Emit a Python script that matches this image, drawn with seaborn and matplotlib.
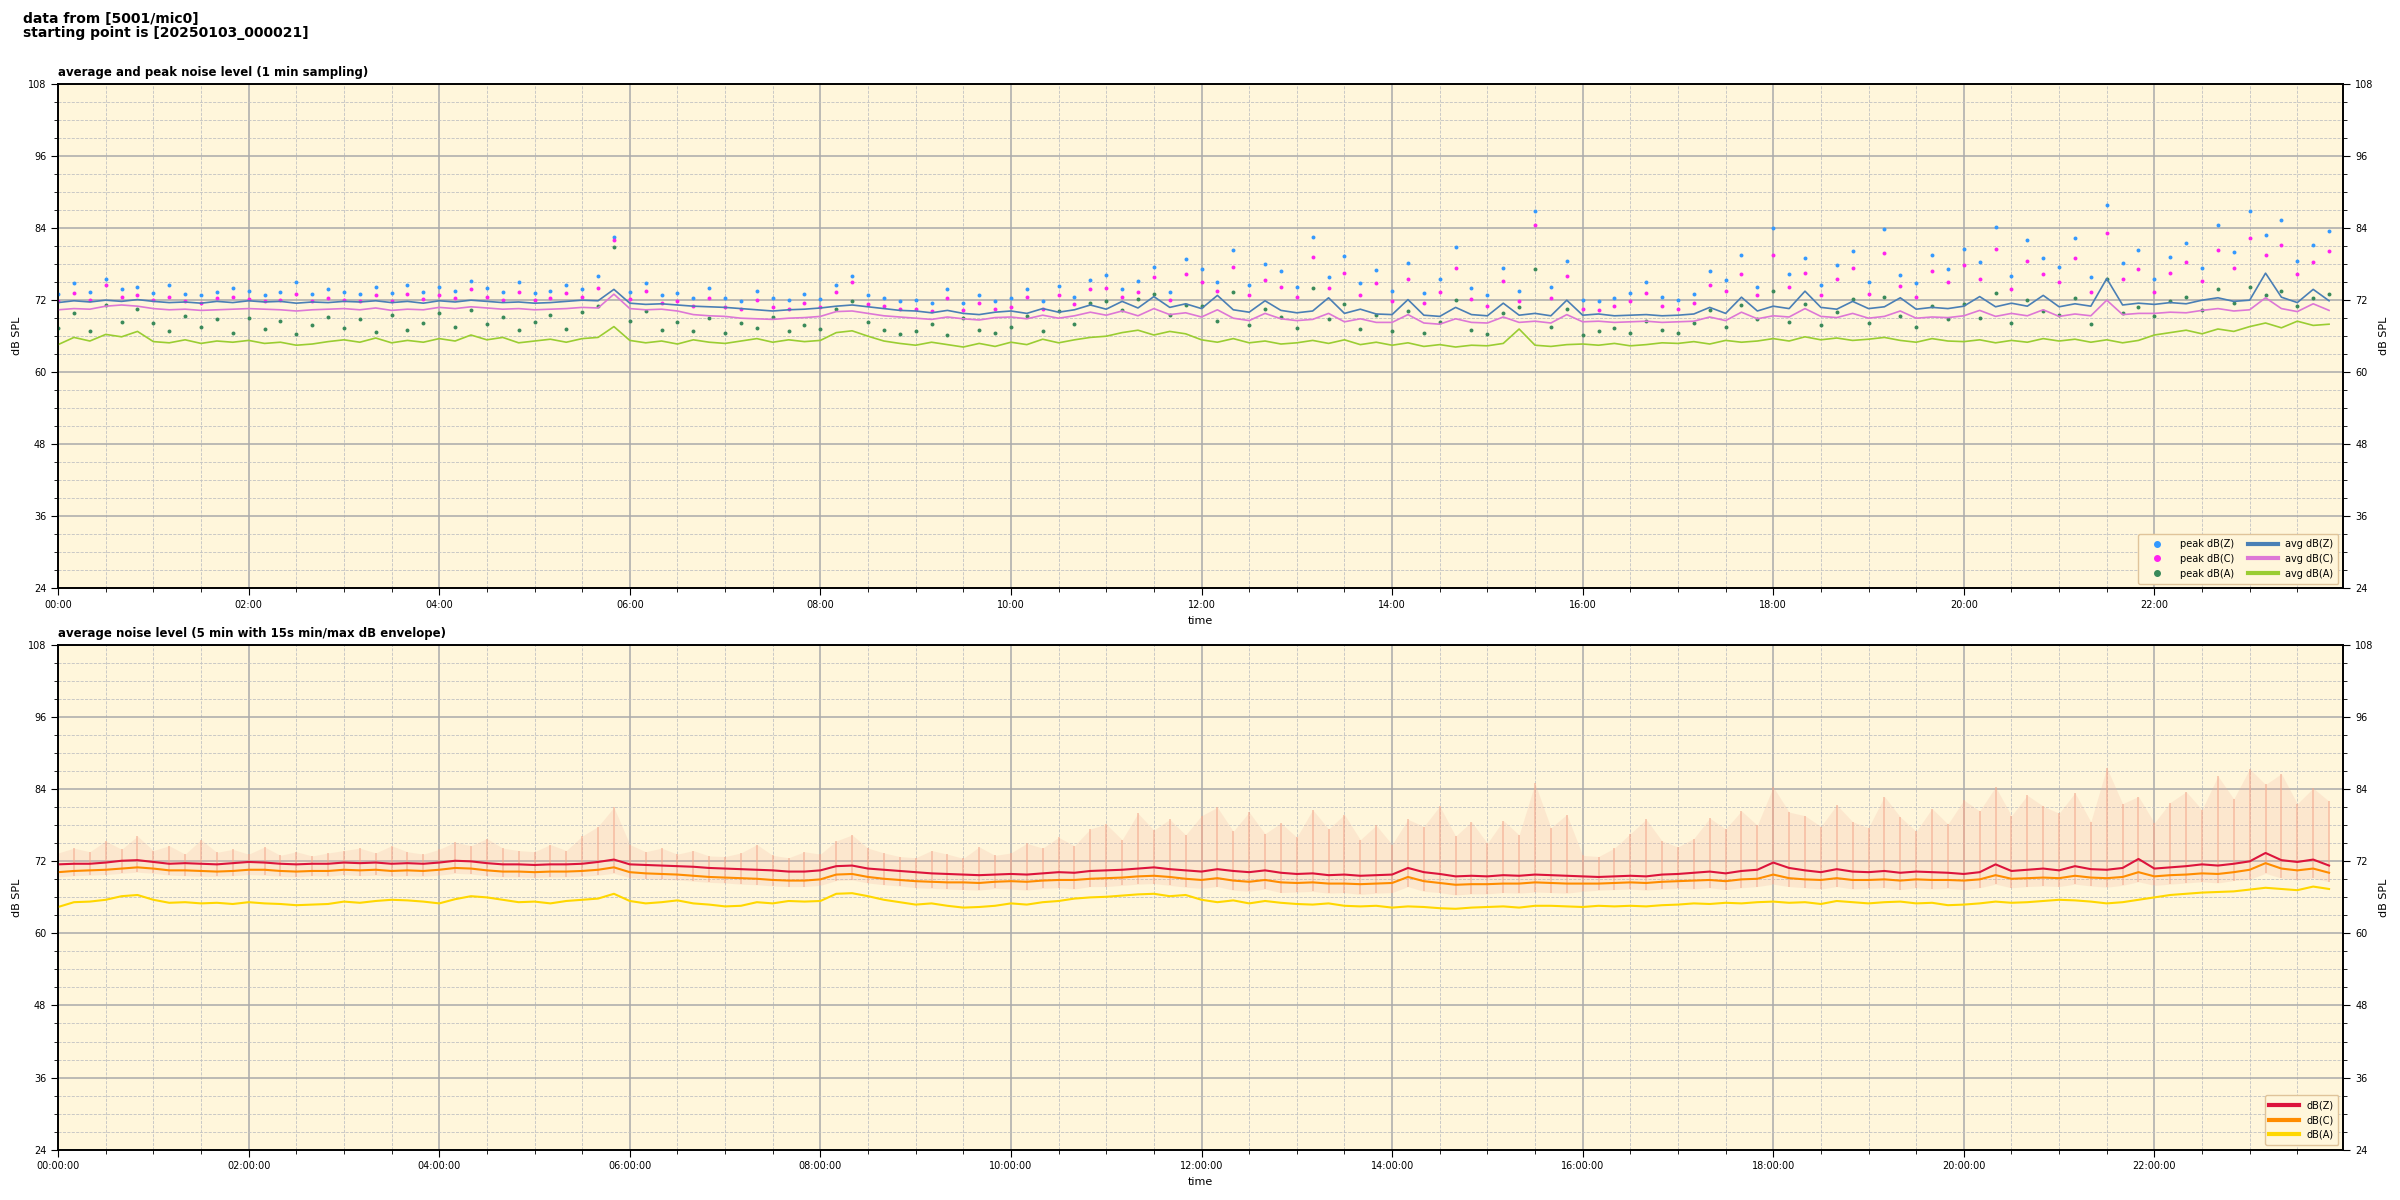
import numpy as np
import pandas as pd
import matplotlib
matplotlib.use("Agg")
import matplotlib.pyplot as plt
import matplotlib.dates as mdates
from matplotlib.lines import Line2D
from matplotlib.ticker import MultipleLocator
import seaborn as sns

# ---- data, one value per 10 minutes, one row per hour ----
times = pd.date_range("2025-01-03 00:00", periods=144, freq="10min")

# top panel: 1 min averages
avg_z = [71.6, 71.9, 71.7, 72.0, 71.8, 72.1,
         71.8, 71.6, 71.7, 71.5, 71.8, 71.6,
         71.9, 71.7, 71.8, 71.5, 71.7, 71.6,
         71.8, 71.7, 71.9, 71.6, 71.8, 71.5,
         71.9, 71.7, 72.0, 71.8, 71.6, 71.7,
         71.5, 71.6, 71.8, 72.0, 71.9, 73.8,
         71.5, 71.3, 71.4, 71.2, 71.0, 70.9,
         70.8, 70.6, 70.4, 70.2, 70.4, 70.5,
         70.7, 71.0, 71.2, 70.9, 70.6, 70.3,
         70.2, 69.9, 70.3, 69.8, 69.6, 70.0,
         70.2, 69.8, 70.6, 70.0, 70.4, 71.2,
         70.5, 71.8, 70.7, 72.6, 70.8, 71.4,
         70.6, 72.8, 70.4, 70.0, 71.9, 70.3,
         69.9, 70.2, 72.4, 69.8, 70.5, 69.7,
         69.6, 72.1, 69.5, 69.3, 70.8, 69.6,
         69.4, 71.5, 69.5, 69.8, 69.4, 72.0,
         69.5, 69.7, 69.4, 69.5, 69.6, 69.4,
         69.5, 69.7, 70.8, 69.8, 72.5, 70.2,
         71.0, 70.6, 73.5, 70.8, 70.5, 71.8,
         70.6, 70.9, 72.4, 70.5, 70.8, 70.6,
         71.0, 72.6, 70.9, 71.5, 71.0, 72.8,
         70.9, 71.4, 71.0, 75.6, 71.2, 71.5,
         71.3, 71.6, 71.4, 72.0, 72.4, 71.8,
         72.0, 76.5, 72.5, 71.6, 73.8, 71.9]

avg_c = [70.4, 70.6, 70.5, 71.0, 71.2, 71.0,
         70.6, 70.4, 70.5, 70.3, 70.4, 70.5,
         70.6, 70.5, 70.4, 70.2, 70.4, 70.5,
         70.6, 70.4, 70.7, 70.3, 70.5, 70.4,
         70.8, 70.6, 70.9, 70.7, 70.5, 70.6,
         70.4, 70.5, 70.6, 70.8, 70.7, 73.0,
         70.6, 70.4, 70.5, 70.2, 69.6, 69.4,
         69.3, 69.0, 68.9, 68.8, 69.0, 69.1,
         69.3, 70.1, 70.2, 69.8, 69.4, 69.2,
         69.0, 68.8, 69.2, 68.9, 68.7, 69.1,
         69.2, 68.9, 69.5, 69.0, 69.4, 70.0,
         69.5, 70.2, 69.4, 70.6, 69.6, 69.9,
         69.2, 70.4, 69.0, 68.6, 69.8, 68.9,
         68.6, 68.8, 69.8, 68.4, 68.9, 68.3,
         68.3, 69.6, 68.2, 68.0, 68.9, 68.3,
         68.2, 69.2, 68.3, 68.5, 68.2, 69.6,
         68.4, 68.5, 68.3, 68.4, 68.5, 68.3,
         68.4, 68.5, 69.2, 68.6, 70.0, 68.9,
         69.4, 69.2, 70.6, 69.3, 69.1, 69.8,
         69.0, 69.3, 70.2, 69.0, 69.2, 69.1,
         69.4, 70.3, 69.3, 69.8, 69.4, 70.4,
         69.3, 69.7, 69.4, 72.0, 69.6, 69.8,
         69.8, 70.0, 69.9, 70.3, 70.6, 70.2,
         70.4, 72.4, 70.6, 70.1, 71.4, 70.3]

avg_a = [64.6, 65.8, 65.2, 66.3, 65.9, 66.8,
         65.1, 64.9, 65.4, 64.8, 65.2, 65.0,
         65.3, 64.8, 65.0, 64.5, 64.7, 65.1,
         65.4, 65.0, 65.7, 64.9, 65.3, 65.0,
         65.6, 65.2, 66.2, 65.4, 65.8, 64.9,
         65.2, 65.5, 65.0, 65.6, 65.8, 67.6,
         65.3, 64.9, 65.2, 64.7, 65.4, 65.0,
         64.8, 65.2, 65.6, 65.0, 65.4, 65.1,
         65.3, 66.6, 66.9, 66.0, 65.2, 64.8,
         64.5, 65.0, 64.6, 64.2, 64.8, 64.3,
         65.0, 64.6, 65.5, 64.9, 65.4, 65.8,
         66.0, 66.6, 67.0, 66.2, 66.8, 66.4,
         65.4, 65.0, 65.6, 64.9, 65.2, 64.7,
         64.9, 65.3, 64.8, 65.4, 64.6, 65.0,
         64.5, 64.9, 64.3, 64.6, 64.2, 64.5,
         64.4, 64.8, 67.2, 64.5, 64.3, 64.6,
         64.7, 64.5, 64.8, 64.4, 64.6, 64.9,
         64.8, 65.1, 64.7, 65.3, 65.0, 65.2,
         65.6, 65.2, 65.9, 65.4, 65.7, 65.3,
         65.5, 65.8, 65.3, 65.0, 65.6, 65.2,
         65.1, 65.4, 64.9, 65.3, 65.0, 65.6,
         65.2, 65.5, 65.0, 65.4, 64.9, 65.3,
         66.2, 66.6, 67.0, 66.4, 67.2, 66.8,
         67.6, 68.2, 67.4, 68.5, 67.8, 68.0]

peak_z = [73.0, 74.8, 73.4, 75.6, 73.8, 74.2,
          73.2, 74.5, 73.0, 72.9, 73.4, 74.0,
          73.6, 72.9, 73.4, 75.0, 73.1, 73.8,
          73.4, 73.0, 74.2, 73.2, 74.6, 73.3,
          74.2, 73.6, 75.2, 74.0, 73.4, 75.1,
          73.2, 73.6, 74.5, 73.8, 76.0, 82.5,
          73.4, 74.8, 72.8, 73.2, 72.4, 74.0,
          72.4, 71.9, 73.6, 72.3, 72.0, 73.0,
          72.2, 74.6, 76.0, 72.8, 72.4, 71.9,
          72.0, 71.6, 73.8, 71.5, 72.9, 71.8,
          72.3, 73.9, 71.8, 74.4, 72.6, 75.4,
          76.2, 73.8, 75.2, 77.6, 73.4, 78.8,
          77.2, 75.0, 80.4, 74.6, 78.0, 76.8,
          74.2, 82.6, 75.8, 79.4, 74.8, 77.0,
          73.6, 78.2, 73.2, 75.6, 80.8, 74.0,
          72.8, 77.4, 73.6, 86.8, 74.2, 78.6,
          72.0, 71.8, 72.4, 73.2, 75.0, 72.6,
          72.1, 73.0, 76.8, 75.4, 79.5, 74.2,
          84.0, 76.4, 79.0, 74.6, 77.8, 80.2,
          75.0, 83.8, 76.2, 74.8, 79.6, 77.2,
          80.6, 78.4, 84.2, 76.0, 82.0, 79.0,
          77.6, 82.4, 75.8, 87.8, 78.2, 80.4,
          75.6, 79.2, 81.6, 77.4, 84.6, 80.0,
          86.8, 82.8, 85.4, 78.6, 81.2, 83.6]

peak_c = [71.8, 73.2, 72.0, 74.6, 72.6, 72.8,
          72.0, 72.6, 71.8, 71.6, 72.3, 72.5,
          72.2, 71.9, 72.1, 73.0, 71.8, 72.4,
          72.0, 71.8, 72.8, 71.9, 73.0, 72.2,
          72.8, 72.4, 73.8, 72.6, 72.0, 73.4,
          72.0, 72.3, 73.2, 72.6, 74.0, 82.0,
          72.2, 73.6, 71.6, 71.8, 71.0, 72.4,
          70.8, 70.6, 72.0, 70.9, 70.5, 71.6,
          70.8, 73.4, 75.0, 71.4, 71.0, 70.6,
          70.6, 70.2, 72.4, 70.4, 71.6, 70.5,
          70.9, 72.6, 70.6, 72.8, 71.4, 73.8,
          74.0, 72.6, 73.4, 75.8, 72.0, 76.4,
          75.0, 73.6, 77.6, 72.8, 75.4, 74.2,
          72.6, 79.2, 74.0, 76.6, 72.8, 74.8,
          71.8, 75.6, 71.6, 73.4, 77.4, 72.2,
          71.0, 75.2, 71.8, 84.6, 72.4, 76.0,
          70.6, 70.4, 71.0, 71.8, 73.2, 71.0,
          70.6, 71.6, 74.6, 73.6, 76.4, 72.8,
          79.6, 74.2, 76.6, 72.8, 75.6, 77.4,
          73.0, 79.8, 74.4, 72.6, 76.8, 75.0,
          77.8, 75.6, 80.6, 73.8, 78.6, 76.4,
          75.0, 79.0, 73.4, 83.2, 75.6, 77.2,
          73.4, 76.6, 78.4, 75.2, 80.4, 77.4,
          82.4, 79.6, 81.2, 76.4, 78.4, 80.2]

peak_a = [67.4, 69.8, 66.8, 71.2, 68.4, 70.6,
          68.2, 66.9, 69.4, 67.6, 68.8, 66.5,
          69.0, 67.2, 68.6, 66.4, 67.8, 69.2,
          67.4, 68.8, 66.7, 69.6, 67.1, 68.2,
          69.8, 67.6, 70.4, 68.0, 69.2, 67.0,
          68.4, 69.6, 67.2, 70.0, 71.0, 80.8,
          68.6, 70.2, 67.0, 68.4, 66.8, 69.0,
          66.6, 68.2, 67.4, 69.2, 66.9, 67.8,
          67.2, 70.6, 71.8, 68.4, 67.0, 66.4,
          66.8, 68.0, 66.2, 69.0, 67.0, 66.5,
          67.6, 69.4, 66.9, 70.2, 68.0, 71.6,
          71.8, 70.4, 72.2, 73.0, 69.6, 71.2,
          71.0, 68.6, 73.4, 67.8, 70.6, 69.2,
          67.4, 74.0, 68.8, 71.4, 67.2, 69.6,
          66.8, 70.2, 66.6, 68.4, 72.0, 67.0,
          66.4, 69.8, 70.8, 77.2, 67.6, 70.6,
          66.2, 66.8, 67.4, 66.5, 68.6, 67.0,
          66.6, 68.2, 70.4, 67.6, 71.2, 68.8,
          73.6, 68.4, 71.4, 67.8, 70.0, 72.2,
          68.2, 72.6, 69.4, 67.6, 71.0, 68.8,
          71.4, 69.0, 73.2, 68.2, 72.0, 70.2,
          69.6, 72.4, 68.0, 75.6, 69.8, 70.8,
          69.4, 71.8, 72.6, 70.4, 73.8, 71.6,
          74.2, 72.8, 73.6, 71.0, 72.4, 73.0]

# bottom panel: 5 min averages and 15 s min/max envelope
z_5min = [71.5, 71.6, 71.6, 71.8, 72.1, 72.2,
          71.9, 71.6, 71.7, 71.6, 71.5, 71.7,
          71.9, 71.8, 71.6, 71.5, 71.6, 71.6,
          71.8, 71.7, 71.8, 71.6, 71.7, 71.6,
          71.8, 72.1, 72.0, 71.7, 71.5, 71.5,
          71.4, 71.5, 71.5, 71.6, 71.9, 72.3,
          71.5, 71.4, 71.3, 71.2, 71.1, 70.9,
          70.8, 70.7, 70.6, 70.5, 70.3, 70.3,
          70.5, 71.2, 71.3, 70.8, 70.6, 70.4,
          70.2, 70.0, 69.9, 69.8, 69.7, 69.8,
          69.9, 69.8, 70.0, 70.2, 70.1, 70.4,
          70.5, 70.6, 70.8, 71.0, 70.7, 70.5,
          70.3, 70.7, 70.4, 70.2, 70.5, 70.1,
          69.9, 70.0, 69.7, 69.8, 69.6, 69.7,
          69.8, 70.9, 70.2, 69.9, 69.5, 69.6,
          69.5, 69.7, 69.6, 69.8, 69.7, 69.6,
          69.5, 69.4, 69.5, 69.6, 69.5, 69.8,
          69.9, 70.1, 70.3, 70.0, 70.4, 70.6,
          71.8, 70.9, 70.5, 70.2, 70.7, 70.3,
          70.2, 70.4, 70.1, 70.3, 70.2, 70.1,
          69.9, 70.2, 71.5, 70.4, 70.6, 70.8,
          70.5, 71.2, 70.7, 70.6, 70.9, 72.4,
          70.8, 71.0, 71.2, 71.5, 71.3, 71.6,
          72.0, 73.4, 72.2, 71.9, 72.3, 71.3]

c_5min = [70.2, 70.4, 70.5, 70.6, 70.8, 71.0,
          70.8, 70.5, 70.5, 70.4, 70.3, 70.4,
          70.6, 70.6, 70.4, 70.3, 70.4, 70.4,
          70.6, 70.5, 70.6, 70.4, 70.5, 70.4,
          70.6, 70.9, 70.8, 70.5, 70.3, 70.3,
          70.2, 70.3, 70.3, 70.4, 70.6, 71.0,
          70.2, 70.0, 69.9, 69.8, 69.6, 69.4,
          69.3, 69.2, 69.1, 68.9, 68.8, 68.8,
          69.0, 69.8, 69.9, 69.4, 69.1, 68.9,
          68.7, 68.6, 68.5, 68.5, 68.4, 68.6,
          68.7, 68.6, 68.8, 68.9, 68.9, 69.1,
          69.2, 69.3, 69.5, 69.6, 69.4, 69.1,
          68.9, 69.2, 68.8, 68.6, 68.9, 68.5,
          68.4, 68.5, 68.3, 68.3, 68.2, 68.3,
          68.4, 69.4, 68.7, 68.4, 68.1, 68.2,
          68.2, 68.3, 68.3, 68.5, 68.4, 68.3,
          68.3, 68.3, 68.4, 68.5, 68.4, 68.6,
          68.7, 68.8, 68.9, 68.7, 69.0, 69.1,
          69.8, 69.2, 69.0, 68.9, 69.2, 68.9,
          68.9, 69.0, 68.8, 69.0, 68.9, 68.9,
          68.8, 69.0, 69.7, 69.1, 69.2, 69.3,
          69.2, 69.6, 69.3, 69.2, 69.4, 70.2,
          69.5, 69.7, 69.8, 70.0, 69.9, 70.2,
          70.6, 71.7, 70.8, 70.5, 70.8, 70.1]

a_5min = [64.4, 65.2, 65.3, 65.6, 66.2, 66.4,
          65.6, 65.1, 65.2, 65.0, 65.1, 64.9,
          65.2, 65.0, 64.9, 64.7, 64.8, 64.9,
          65.3, 65.1, 65.4, 65.6, 65.5, 65.3,
          65.0, 65.7, 66.2, 66.0, 65.6, 65.2,
          65.3, 65.0, 65.4, 65.6, 65.8, 66.6,
          65.4, 65.0, 65.2, 65.5, 65.0, 64.8,
          64.5, 64.6, 65.2, 65.0, 65.4, 65.3,
          65.4, 66.6, 66.7, 66.2, 65.6, 65.2,
          64.8, 65.0, 64.6, 64.3, 64.4, 64.6,
          65.0, 64.8, 65.2, 65.4, 65.8, 66.0,
          66.1, 66.3, 66.5, 66.6, 66.2, 66.4,
          65.6, 65.2, 65.5, 65.0, 65.4, 65.1,
          64.9, 64.8, 65.0, 64.6, 64.5, 64.6,
          64.3, 64.5, 64.4, 64.2, 64.1, 64.3,
          64.4, 64.5, 64.3, 64.6, 64.6, 64.5,
          64.4, 64.6, 64.5, 64.6, 64.5, 64.7,
          64.8, 65.0, 64.9, 65.1, 65.0, 65.2,
          65.3, 65.1, 65.2, 64.9, 65.4, 65.2,
          65.0, 65.2, 65.3, 65.0, 65.1, 64.7,
          64.8, 65.0, 65.3, 65.1, 65.2, 65.4,
          65.6, 65.5, 65.3, 65.0, 65.2, 65.6,
          66.0, 66.4, 66.6, 66.8, 66.9, 67.0,
          67.3, 67.6, 67.4, 67.2, 67.8, 67.4]

env_max = [73.4, 74.2, 73.6, 75.4, 74.0, 76.2,
           73.8, 74.6, 73.2, 75.6, 73.5, 74.0,
           73.2, 74.4, 73.0, 73.6, 72.9, 73.4,
           73.8, 74.2, 73.4, 74.6, 73.6, 73.2,
           74.0, 75.2, 74.6, 75.8, 74.2, 73.8,
           73.6, 74.8, 73.8, 76.2, 77.8, 81.0,
           74.8, 73.6, 74.2, 73.2, 73.8, 72.9,
           72.8, 73.4, 74.8, 73.0, 72.6, 73.6,
           73.2, 75.4, 76.4, 74.2, 73.4, 72.8,
           72.6, 73.8, 73.2, 72.5, 74.4, 73.0,
           73.4, 75.0, 74.2, 76.0, 74.6, 77.4,
           78.2, 75.6, 80.0, 77.2, 79.0, 76.4,
           79.6, 81.0, 77.0, 80.2, 76.6, 78.4,
           76.0, 80.6, 77.4, 79.8, 75.6, 78.0,
           74.8, 79.0, 77.8, 81.2, 76.2, 78.6,
           75.0, 78.8, 76.4, 85.0, 77.6, 79.8,
           73.0, 72.8, 74.2, 76.6, 79.0, 75.4,
           74.4, 75.8, 79.2, 77.4, 80.4, 78.0,
           84.4, 80.2, 79.6, 77.8, 81.4, 78.6,
           77.6, 82.8, 79.4, 77.0, 80.8, 78.2,
           82.2, 80.4, 84.4, 79.6, 83.0, 81.2,
           80.0, 83.4, 78.6, 87.6, 81.6, 82.8,
           78.4, 81.8, 83.6, 80.6, 86.2, 82.4,
           87.4, 84.8, 86.6, 81.6, 84.2, 82.0]

env_min = [69.4, 69.6, 69.7, 69.8, 70.0, 70.2,
           70.0, 69.7, 69.6, 69.5, 69.5, 69.6,
           69.8, 69.7, 69.5, 69.4, 69.6, 69.5,
           69.8, 69.6, 69.7, 69.5, 69.6, 69.5,
           69.7, 70.0, 69.9, 69.6, 69.4, 69.4,
           69.3, 69.4, 69.4, 69.5, 69.7, 70.0,
           69.3, 69.1, 69.0, 68.9, 68.7, 68.5,
           68.4, 68.2, 68.1, 67.9, 67.8, 67.8,
           68.0, 68.8, 68.9, 68.4, 68.1, 67.9,
           67.6, 67.5, 67.4, 67.3, 67.2, 67.5,
           67.4, 67.2, 67.5, 67.6, 67.4, 67.8,
           67.8, 68.0, 68.2, 68.3, 68.0, 67.7,
           67.5, 67.8, 67.2, 67.0, 67.4, 66.8,
           66.9, 67.0, 66.7, 66.8, 66.5, 66.7,
           66.8, 67.8, 67.0, 66.8, 66.4, 66.6,
           66.6, 66.8, 66.7, 66.9, 66.8, 66.7,
           67.0, 67.2, 67.3, 67.4, 67.2, 67.4,
           67.5, 67.4, 67.6, 67.3, 67.6, 67.8,
           68.2, 67.8, 67.6, 67.4, 67.8, 67.4,
           67.5, 67.6, 67.3, 67.6, 67.4, 67.5,
           67.3, 67.6, 68.2, 67.6, 67.8, 67.9,
           67.8, 68.2, 67.9, 67.7, 68.0, 68.6,
           68.0, 68.2, 68.4, 68.6, 68.4, 68.8,
           69.0, 70.0, 69.2, 68.9, 69.2, 68.6]

BG = "#fff6db"
TICK_FONT = ["Liberation Sans Narrow", "DejaVu Sans"]
day_start = pd.Timestamp("2025-01-03 00:00")
day_end = pd.Timestamp("2025-01-03 23:59")

plt.rcParams["font.family"] = ["DejaVu Sans"]

fig, (ax1, ax2) = plt.subplots(2, 1, figsize=(24, 12), dpi=100)
fig.subplots_adjust(left=0.0242, right=0.9764, top=0.930, bottom=0.042, hspace=0.1125)
fig.text(0.0095, 0.990, "data from [5001/mic0]\nstarting point is [20250103_000021]",
         ha="left", va="top", fontsize=10, fontweight="bold", linespacing=1.0)


def style_axes(ax, timefmt):
    ax.set_facecolor(BG)
    ax.set_ylim(24, 108)
    ax.set_xlim(day_start, day_end)
    ax.yaxis.set_major_locator(MultipleLocator(12))
    ax.yaxis.set_minor_locator(MultipleLocator(3))
    ax.xaxis.set_major_locator(mdates.HourLocator(byhour=range(0, 24, 2)))
    ax.xaxis.set_minor_locator(mdates.MinuteLocator(byminute=[0, 30]))
    ax.xaxis.set_major_formatter(mdates.DateFormatter(timefmt))
    ax.grid(which="major", color="#aaaaaa", linestyle="-", linewidth=1.1)
    ax.grid(which="minor", color="#c2c2c2", linestyle="--", linewidth=0.6)
    ax.set_axisbelow(True)
    for sp in ax.spines.values():
        sp.set_linewidth(1.2)
    ax.tick_params(which="major", labelsize=7, length=5)
    ax.tick_params(which="minor", length=3)
    for lab in ax.get_xticklabels() + ax.get_yticklabels():
        lab.set_family(TICK_FONT)
    ax.set_xlabel("time", fontsize=8)
    ax.set_ylabel("dB SPL", fontsize=8)

    axr = ax.twinx()
    axr.set_ylim(24, 108)
    axr.yaxis.set_major_locator(MultipleLocator(12))
    axr.yaxis.set_minor_locator(MultipleLocator(3))
    axr.tick_params(which="major", labelsize=7, length=5)
    axr.tick_params(which="minor", length=3)
    for lab in axr.get_yticklabels():
        lab.set_family(TICK_FONT)
    axr.set_ylabel("dB SPL", fontsize=8)
    for sp in axr.spines.values():
        sp.set_linewidth(1.2)
    return axr


# ---- top: average and peak noise level ----
peak_style = dict(s=8, linewidth=0, ax=ax1, legend=False, zorder=3)
sns.scatterplot(x=times, y=peak_z, color="#3399ff", **peak_style)
sns.scatterplot(x=times, y=peak_c, color="#ff22ee", **peak_style)
sns.scatterplot(x=times, y=peak_a, color="#3a8a5a", **peak_style)
sns.lineplot(x=times, y=avg_z, color="#4a7fb5", linewidth=1.2, ax=ax1, zorder=4)
sns.lineplot(x=times, y=avg_c, color="#dd77d6", linewidth=1.2, ax=ax1, zorder=4)
sns.lineplot(x=times, y=avg_a, color="#9acd32", linewidth=1.2, ax=ax1, zorder=4)
ax1.set_title("average and peak noise level (1 min sampling)", loc="left",
              fontsize=8.5, fontweight="bold")
style_axes(ax1, "%H:%M")

top_handles = [
    Line2D([], [], marker="o", ls="", color="#3399ff", markersize=4, label="peak dB(Z)"),
    Line2D([], [], marker="o", ls="", color="#ff22ee", markersize=4, label="peak dB(C)"),
    Line2D([], [], marker="o", ls="", color="#3a8a5a", markersize=4, label="peak dB(A)"),
    Line2D([], [], color="#4a7fb5", lw=3, label="avg dB(Z)"),
    Line2D([], [], color="#dd77d6", lw=3, label="avg dB(C)"),
    Line2D([], [], color="#9acd32", lw=3, label="avg dB(A)"),
]
leg1 = ax1.legend(handles=top_handles, ncol=2, loc="lower right", fontsize=7,
                  facecolor=BG, edgecolor="#e0c49a", framealpha=1,
                  handlelength=3.0, columnspacing=1.5, borderpad=0.5)
leg1.set_zorder(10)

# ---- bottom: 5 min average with min/max envelope ----
ax2.fill_between(times, env_min, env_max, color="#f5b6a0", alpha=0.22,
                 linewidth=0, zorder=2)
ax2.vlines(times, env_min, env_max, color="#f3a98e", alpha=0.55,
           linewidth=1.4, zorder=2)
sns.lineplot(x=times, y=z_5min, color="#dc143c", linewidth=1.5, ax=ax2, zorder=4)
sns.lineplot(x=times, y=c_5min, color="#ff8c00", linewidth=1.5, ax=ax2, zorder=4)
sns.lineplot(x=times, y=a_5min, color="#ffd700", linewidth=1.5, ax=ax2, zorder=4)
ax2.set_title("average noise level (5 min with 15s min/max dB envelope)", loc="left",
              fontsize=8.5, fontweight="bold")
style_axes(ax2, "%H:%M:%S")

bottom_handles = [
    Line2D([], [], color="#dc143c", lw=3, label="dB(Z)"),
    Line2D([], [], color="#ff8c00", lw=3, label="dB(C)"),
    Line2D([], [], color="#ffd700", lw=3, label="dB(A)"),
]
leg2 = ax2.legend(handles=bottom_handles, loc="lower right", fontsize=7,
                  facecolor=BG, edgecolor="#e0c49a", framealpha=1,
                  handlelength=3.0, borderpad=0.5)

fig.savefig("out.png", dpi=100)
